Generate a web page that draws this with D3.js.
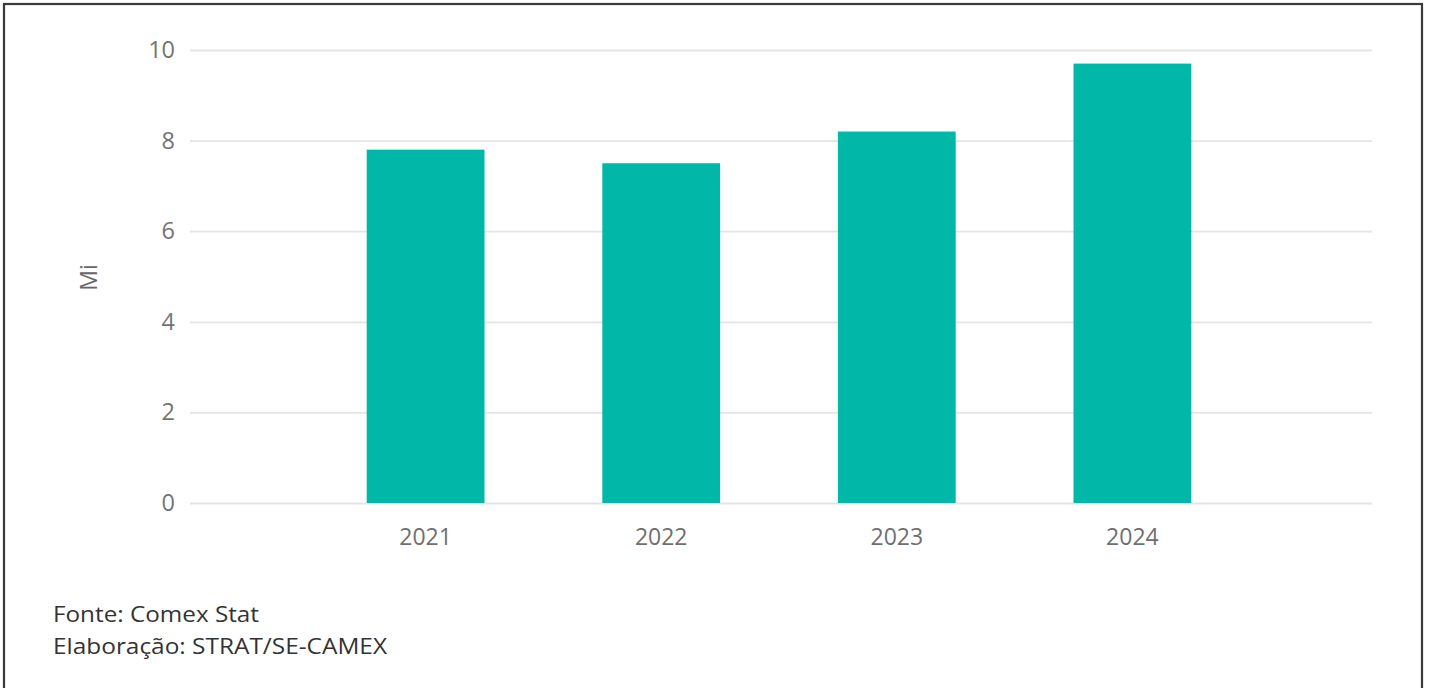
<!DOCTYPE html>
<html>
<head>
<meta charset="utf-8">
<script src="https://cdn.jsdelivr.net/npm/d3@7"></script>
<style>
  html, body { margin: 0; padding: 0; background: #ffffff; }
  svg { display: block; }
  text { font-family: "Open Sans", "Noto Sans", sans-serif; }
</style>
</head>
<body>
<svg id="chart" width="1430" height="688"></svg>
<script>
// Annual values, in millions
const years = ["2021", "2022", "2023", "2024"];
const values = [7.8, 7.5, 8.2, 9.7];
const yTicks = [0, 2, 4, 6, 8, 10];
const yAxisTitle = "Mi";
const footnotes = ["Fonte: Comex Stat", "Elaboração: STRAT/SE-CAMEX"];

const svg = d3.select("#chart");
const plot = { left: 190, right: 1372, top: 50, bottom: 503 };

// Outer frame (bottom edge runs off the canvas)
svg.append("rect")
  .attr("x", 4).attr("y", 4)
  .attr("width", 1418).attr("height", 720)
  .attr("fill", "#ffffff")
  .attr("stroke", "#3a3a3a")
  .attr("stroke-width", 2.2);

const x = d3.scaleBand()
  .domain(years)
  .range([plot.left, plot.right - 4])
  .paddingInner(0.5)
  .paddingOuter(0.75);

const y = d3.scaleLinear()
  .domain([0, 10])
  .range([plot.bottom, plot.top]);

// Horizontal gridlines with value labels
const yAxis = d3.axisLeft(y)
  .tickValues(yTicks)
  .tickSize(-(plot.right - plot.left))
  .tickPadding(15)
  .tickFormat(d3.format("d"));

const gy = svg.append("g")
  .attr("transform", `translate(${plot.left},0)`)
  .call(yAxis);
gy.select(".domain").remove();
gy.selectAll(".tick line")
  .attr("stroke", "#e4e4e4")
  .attr("stroke-width", 1.8);
gy.selectAll(".tick text")
  .attr("fill", "#747474")
  .attr("font-size", 23.5);

// Bars
svg.append("g")
  .selectAll("rect")
  .data(years.map((yr, i) => ({ yr, v: values[i] })))
  .join("rect")
  .attr("x", d => x(d.yr))
  .attr("y", d => y(d.v))
  .attr("width", x.bandwidth())
  .attr("height", d => y(0) - y(d.v))
  .attr("fill", "#01b7a8");

// Category axis
const xAxis = d3.axisBottom(x).tickSize(0).tickPadding(26);
const gx = svg.append("g")
  .attr("transform", `translate(0,${plot.bottom})`)
  .call(xAxis);
gx.select(".domain").remove();
gx.selectAll(".tick text")
  .attr("fill", "#6f6f6f")
  .attr("font-size", 23);

// Y axis title
svg.append("text")
  .attr("transform", `translate(97,${(plot.top + plot.bottom) / 2 + 1}) rotate(-90)`)
  .attr("text-anchor", "middle")
  .attr("fill", "#666666")
  .attr("font-size", 23)
  .text(yAxisTitle);

// Source notes
svg.append("g")
  .selectAll("text")
  .data(footnotes)
  .join("text")
  .attr("x", 53)
  .attr("y", (d, i) => 622 + i * 32)
  .attr("fill", "#333333")
  .attr("font-size", 22)
  .attr("textLength", (d, i) => i === 0 ? 206 : 334)
  .attr("lengthAdjust", "spacingAndGlyphs")
  .text(d => d);
</script>
</body>
</html>
